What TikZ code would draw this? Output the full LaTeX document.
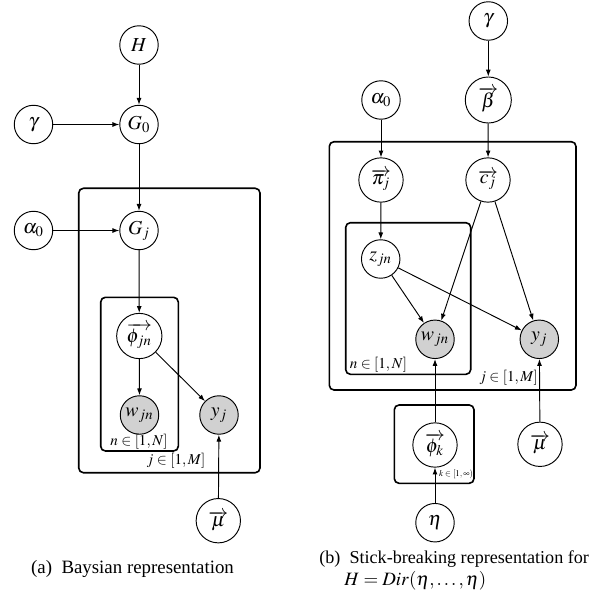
\documentclass[tikz,border=0pt]{standalone}
\usepackage{mathptmx}
\usepackage{fontspec}
\setmainfont{Liberation Serif}
\usetikzlibrary{arrows.meta}
\tikzset{
  x=0.53pt, y=-0.53pt,
  var/.style={circle, draw, line width=0.5pt, inner sep=0pt, minimum size=20.4pt, font=\fontsize{10.5}{12}\selectfont},
  bigvar/.style={var, minimum size=23.5pt},
  obs/.style={var, fill=black!18},
  plate/.style={draw, line width=0.85pt, rounded corners=2.5pt},
  platelabel/.style={inner sep=0pt, font=\fontsize{8}{9}\selectfont},
  edge/.style={line width=0.5pt, -{Latex[length=3.6pt,width=2.6pt]}},
  captext/.style={inner sep=0pt, font=\fontsize{10}{12}\selectfont}
}
\begin{document}
\begin{tikzpicture}
\useasboundingbox (0,0) rectangle (589,605);
% ---------- (a) ----------
\draw[plate] (78.7,188.3) rectangle (260,472.7);
\draw[plate] (100.7,297.3) rectangle (178.3,451);
\node[var] (H) at (139,45) {$H$};
\node[var] (G0) at (139,124.5) {$G_0$};
\node[var] (ga) at (33.5,124.5) {$\gamma$};
\node[var] (Gj) at (139,230.5) {$G_j$};
\node[var] (aa) at (33.5,230.5) {$\alpha_0$};
\node[bigvar, minimum size=24pt] (phijn) at (139.3,336) {$\overrightarrow{\phi_{jn}}$};
\node[obs] (wa) at (139.5,415) {$w_{jn}$};
\node[obs] (ya) at (219,415) {$y_j$};
\node[bigvar] (mua) at (218.3,520.7) {$\overrightarrow{\mu}$};
\node[platelabel] (lna) at (139,442) {$n\in[1,N]$};
\node[platelabel] (lja) at (176,461) {$j\in[1,M]$};
\draw[edge] (H) -- (G0);
\draw[edge] (ga) -- (G0);
\draw[edge] (G0) -- (Gj);
\draw[edge] (aa) -- (Gj);
\draw[edge] (Gj) -- (phijn);
\draw[edge] (phijn) -- (wa);
\draw[edge] (phijn) -- (ya);
\draw[edge] (mua) -- (ya);
\node[captext] (capa) at (132.5,569) {(a)\enspace Baysian representation};
% ---------- (b) ----------
\draw[plate] (329.3,141.7) rectangle (576,390);
\draw[plate] (345.7,222.7) rectangle (470.7,374.3);
\draw[plate] (394.3,405) rectangle (474,483.3);
\node[var] (gb) at (488.3,21) {$\gamma$};
\node[bigvar, minimum size=24.4pt] (beta) at (488.3,100) {$\overrightarrow{\beta}$};
\node[var] (ab) at (381,100) {$\alpha_0$};
\node[bigvar] (pij) at (381,180) {$\overrightarrow{\pi_j}$};
\node[bigvar] (cj) at (488,180) {$\overrightarrow{c_j}$};
\node[var] (zjn) at (380.7,259) {$z_{jn}$};
\node[obs] (wb) at (435,339.3) {$w_{jn}$};
\node[obs] (yb) at (539.3,339.3) {$y_j$};
\node[bigvar] (phik) at (435,445) {$\overrightarrow{\phi_k}$};
\node[var] (eta) at (435,522.7) {$\eta$};
\node[bigvar] (mub) at (540,444.3) {$\overrightarrow{\mu}$};
\node[platelabel, anchor=west] (lnb) at (349.5,364.3) {$n\in[1,N]$};
\node[platelabel] (ljb) at (508.5,377.3) {$j\in[1,M]$};
\node[platelabel, anchor=east, font=\fontsize{4.7}{6}\selectfont] (lkb) at (473.5,474.3) {$k\in[1,\infty)$};
\draw[edge] (gb) -- (beta);
\draw[edge] (beta) -- (cj);
\draw[edge] (ab) -- (pij);
\draw[edge] (pij) -- (zjn);
\draw[edge] (zjn) -- (wb);
\draw[edge] (zjn) -- (yb);
\draw[edge] (cj) -- (wb);
\draw[edge] (cj) -- (yb);
\draw[edge] (phik) -- (wb);
\draw[edge] (eta) -- (phik);
\draw[edge] (mub) -- (yb);
\node[captext, anchor=west, font=\fontsize{9.6}{12}\selectfont] (capb1) at (319,559) {(b)\enspace Stick-breaking representation for};
\node[captext, anchor=west] (capb2) at (344,581) {$H=Dir(\eta,\ldots,\eta)$};
\end{tikzpicture}
\end{document}
